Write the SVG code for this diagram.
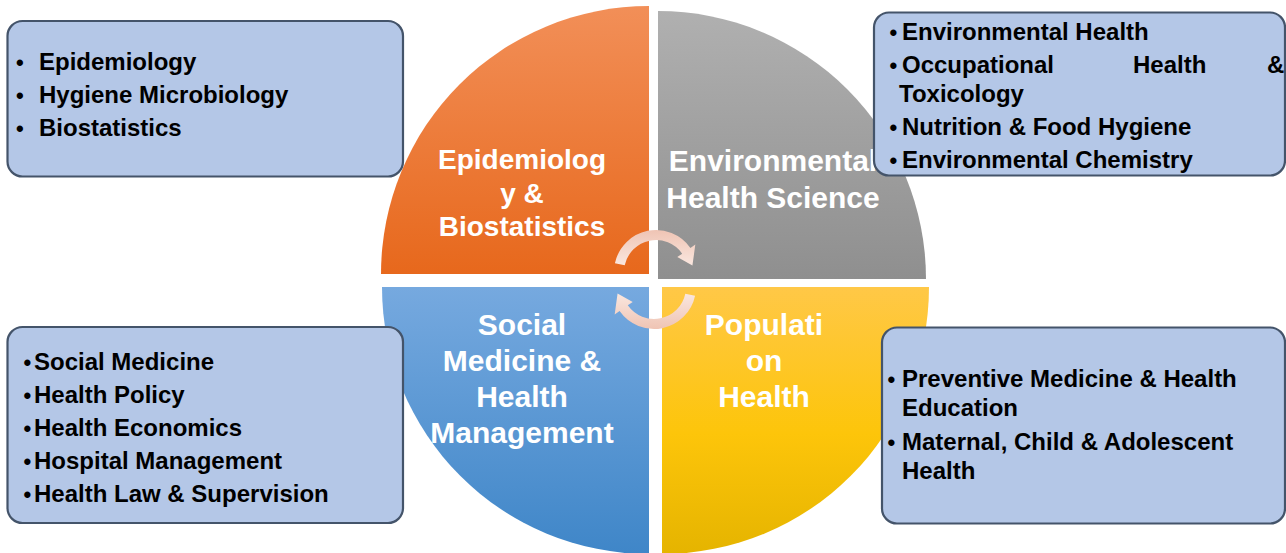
<svg xmlns="http://www.w3.org/2000/svg" width="1286" height="553" viewBox="0 0 1286 553">
  <defs>
    <linearGradient id="gOrange" x1="0" y1="0" x2="0" y2="1">
      <stop offset="0" stop-color="#F28F58"/>
      <stop offset="1" stop-color="#E7681C"/>
    </linearGradient>
    <linearGradient id="gGray" x1="0" y1="0" x2="0" y2="1">
      <stop offset="0" stop-color="#B0B0B0"/>
      <stop offset="1" stop-color="#8F8F8F"/>
    </linearGradient>
    <linearGradient id="gBlue" x1="0" y1="0" x2="0" y2="1">
      <stop offset="0" stop-color="#76A9DF"/>
      <stop offset="1" stop-color="#3F86C8"/>
    </linearGradient>
    <linearGradient id="gYellow" x1="0" y1="0" x2="0" y2="1">
      <stop offset="0" stop-color="#FFC847"/>
      <stop offset="0.55" stop-color="#FDC50A"/>
      <stop offset="1" stop-color="#E5B400"/>
    </linearGradient>
    <linearGradient id="gArrow" x1="0" y1="0" x2="0" y2="1">
      <stop offset="0" stop-color="#EFC4B4"/>
      <stop offset="1" stop-color="#FAE7DF"/>
    </linearGradient>
    <path id="arc" d="M 614.92 263.27 A 42 42 0 0 1 690.41 247.91 L 695.32 244.47 L 692.44 265.58 L 677.30 257.09 L 682.21 253.65 A 32 32 0 0 0 624.70 265.35 Z"/>
  </defs>
  <style>
    .qtxt { font-family: "Liberation Sans", Arial, sans-serif; font-weight: bold; fill: #FFFFFF; text-anchor: middle; }
    .q28 { font-size: 28px; }
    .q30 { font-size: 30px; }
    .box { fill: #B4C7E7; stroke: #44546A; stroke-width: 2.2; }
    .btxt { font-family: "Liberation Sans", Arial, sans-serif; font-weight: bold; font-size: 24px; fill: #000000; }
    .bul { font-family: "Liberation Sans", Arial, sans-serif; font-weight: bold; font-size: 22px; fill: #000000; }
    .arrow { fill: url(#gArrow); }
  </style>

  <g id="quad-epi">
    <path d="M 649 274 L 381 274 A 268 268 0 0 1 649 6 Z" fill="url(#gOrange)"/>
    <text class="qtxt q28" x="522" y="169">Epidemiolog</text>
    <text class="qtxt q28" x="522" y="202.5">y &amp;</text>
    <text class="qtxt q28" x="522" y="236">Biostatistics</text>
  </g>
  <g id="quad-env">
    <path d="M 658 279 L 658 11 A 268 268 0 0 1 926 279 Z" fill="url(#gGray)"/>
    <text class="qtxt q30" x="773" y="171">Environmental</text>
    <text class="qtxt q30" x="773" y="207.5">Health Science</text>
  </g>
  <g id="quad-soc">
    <path d="M 649 287 L 649 554 A 267 267 0 0 1 382 287 Z" fill="url(#gBlue)"/>
    <text class="qtxt q30" x="522" y="335">Social</text>
    <text class="qtxt q30" x="522" y="371">Medicine &amp;</text>
    <text class="qtxt q30" x="522" y="407">Health</text>
    <text class="qtxt q30" x="522" y="443">Management</text>
  </g>
  <g id="quad-pop">
    <path d="M 662 287 L 929 287 A 267 267 0 0 1 662 554 Z" fill="url(#gYellow)"/>
    <text class="qtxt q30" x="764" y="335">Populati</text>
    <text class="qtxt q30" x="764" y="371">on</text>
    <text class="qtxt q30" x="764" y="407">Health</text>
  </g>

  <g id="connectors">
    <use href="#arc" class="arrow"/>
    <use href="#arc" class="arrow" transform="rotate(180 655 279.5)"/>
  </g>

  <g id="box-epi">
    <rect class="box" x="7.5" y="21" width="395.5" height="155.5" rx="15"/>
    <text class="bul" x="16" y="69.5">•</text>
    <text class="btxt" x="39" y="70">Epidemiology</text>
    <text class="bul" x="16" y="102.5">•</text>
    <text class="btxt" x="39" y="103">Hygiene Microbiology</text>
    <text class="bul" x="16" y="135.5">•</text>
    <text class="btxt" x="39" y="136">Biostatistics</text>
  </g>
  <g id="box-env">
    <rect class="box" x="874" y="12.5" width="411" height="163" rx="15"/>
    <text class="bul" x="889.5" y="40">•</text>
    <text class="btxt" x="902" y="40">Environmental Health</text>
    <text class="bul" x="889.5" y="73">•</text>
    <text class="btxt" y="73"><tspan x="902">Occupational</tspan><tspan x="1133">Health</tspan><tspan x="1267">&amp;</tspan></text>
    <text class="btxt" x="899" y="102">Toxicology</text>
    <text class="bul" x="889.5" y="135">•</text>
    <text class="btxt" x="902" y="135">Nutrition &amp; Food Hygiene</text>
    <text class="bul" x="889.5" y="168">•</text>
    <text class="btxt" x="902" y="168">Environmental Chemistry</text>
  </g>
  <g id="box-soc">
    <rect class="box" x="7.5" y="327" width="395.5" height="196" rx="15"/>
    <text class="bul" x="23.5" y="370">•</text>
    <text class="btxt" x="34" y="370">Social Medicine</text>
    <text class="bul" x="23.5" y="403">•</text>
    <text class="btxt" x="34" y="403">Health Policy</text>
    <text class="bul" x="23.5" y="436">•</text>
    <text class="btxt" x="34" y="436">Health Economics</text>
    <text class="bul" x="23.5" y="469">•</text>
    <text class="btxt" x="34" y="469">Hospital Management</text>
    <text class="bul" x="23.5" y="502">•</text>
    <text class="btxt" x="34" y="502">Health Law &amp; Supervision</text>
  </g>
  <g id="box-pop">
    <rect class="box" x="882" y="327.5" width="403" height="196" rx="15"/>
    <text class="bul" x="887.5" y="387">•</text>
    <text class="btxt" x="902" y="387">Preventive Medicine &amp; Health</text>
    <text class="btxt" x="902" y="416">Education</text>
    <text class="bul" x="887.5" y="449.5">•</text>
    <text class="btxt" x="902" y="449.5">Maternal, Child &amp; Adolescent</text>
    <text class="btxt" x="902" y="478.5">Health</text>
  </g>
</svg>
